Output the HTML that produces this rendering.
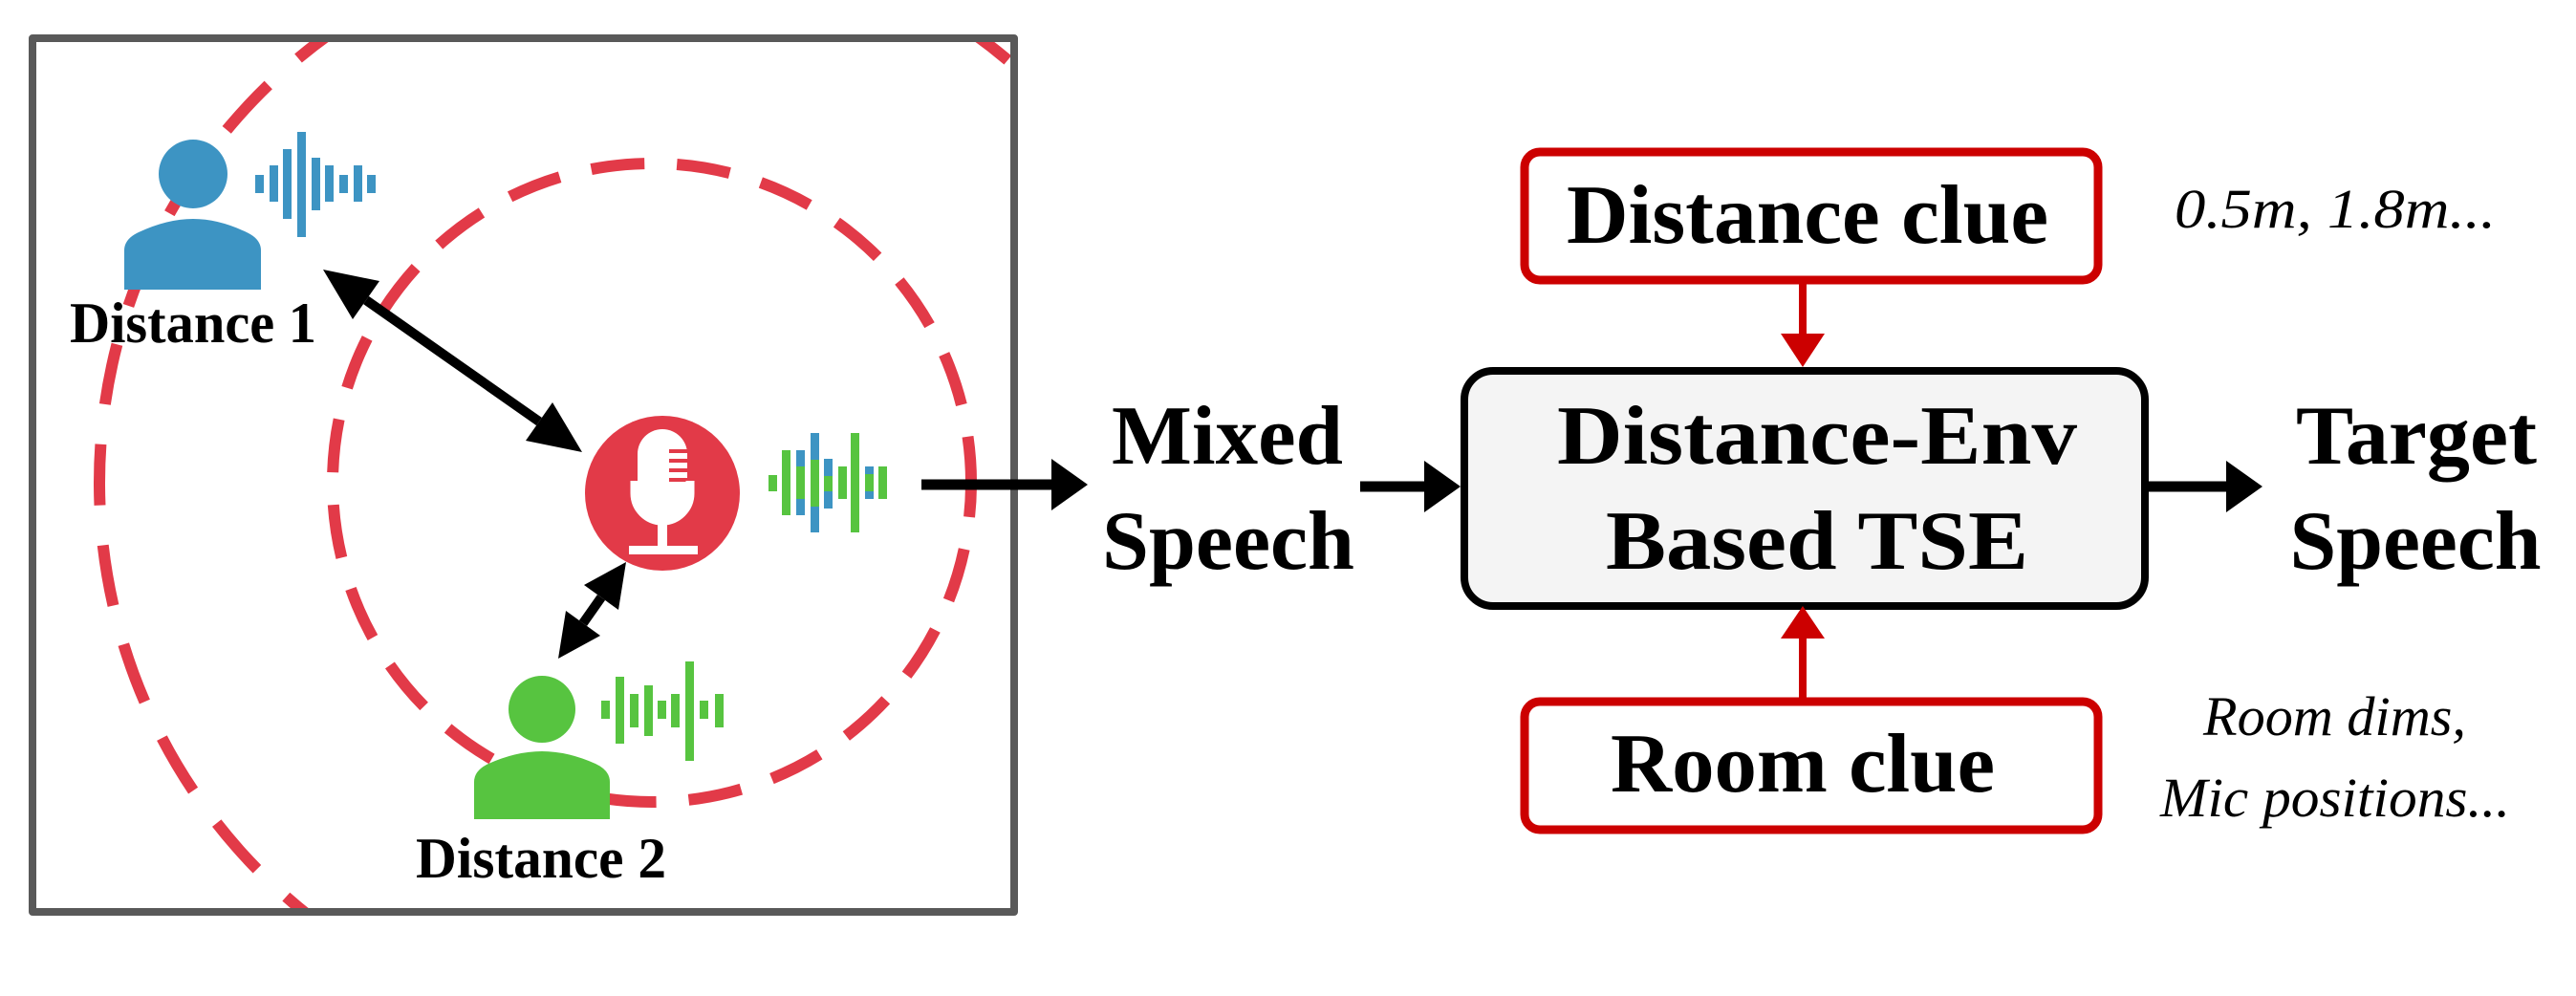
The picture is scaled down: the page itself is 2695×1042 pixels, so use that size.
<!DOCTYPE html>
<html><head><meta charset="utf-8"><style>
html,body{margin:0;padding:0;background:#fff}
svg{display:block}
text{font-family:"Liberation Serif","DejaVu Serif",serif}
</style></head><body>
<svg width="2695" height="1042" viewBox="0 0 2695 1042" xmlns="http://www.w3.org/2000/svg">
<defs><clipPath id="cb"><rect x="34" y="40" width="1027" height="914"/></clipPath></defs>
<rect width="2695" height="1042" fill="#fff"/>
<g clip-path="url(#cb)" fill="none" stroke="#e23a48" stroke-width="12">
<circle cx="682" cy="505" r="578" stroke-dasharray="64 42" stroke-dashoffset="10"/>
<circle cx="682" cy="505" r="334" stroke-dasharray="56 34" stroke-dashoffset="20"/>
</g>
<rect x="34" y="40" width="1027" height="914" fill="none" stroke="#595959" stroke-width="8" stroke-linejoin="round"/>
<!-- blue person -->
<circle cx="202" cy="182" r="36" fill="#3d94c3"/>
<path d="M130 303 L130 262 Q130 250 145 243 Q175 229 202 229 Q229 229 258 243 Q273 250 273 262 L273 303 Z" fill="#3d94c3"/>
<g fill="#3d94c3">
<rect x="267" y="183" width="9" height="19"/><rect x="282" y="173" width="9" height="38"/><rect x="296" y="156" width="9" height="73"/><rect x="311" y="138" width="9" height="110"/><rect x="326" y="165" width="9" height="55"/><rect x="340" y="173" width="9" height="38"/><rect x="355" y="183" width="9" height="19"/><rect x="370" y="173" width="9" height="38"/><rect x="384" y="183" width="9" height="19"/>
</g>
<text x="202" y="358" font-size="60" font-weight="bold" text-anchor="middle" textLength="258" lengthAdjust="spacingAndGlyphs">Distance 1</text>
<!-- green person -->
<circle cx="567" cy="742" r="35" fill="#57c440"/>
<path d="M496 857 L496 818 Q496 806 511 799 Q540 786 567 786 Q594 786 623 799 Q638 806 638 818 L638 857 Z" fill="#57c440"/>
<g fill="#57c440">
<rect x="629" y="733" width="9" height="19"/><rect x="644" y="708" width="9" height="70"/><rect x="659" y="726" width="9" height="35"/><rect x="674" y="717" width="9" height="53"/><rect x="688" y="733" width="9" height="19"/><rect x="702" y="726" width="9" height="35"/><rect x="717" y="692" width="9" height="104"/><rect x="732" y="733" width="9" height="19"/><rect x="748" y="726" width="9" height="35"/>
</g>
<text x="566" y="918" font-size="60" font-weight="bold" text-anchor="middle" textLength="262" lengthAdjust="spacingAndGlyphs">Distance 2</text>
<!-- mic -->
<circle cx="693" cy="516" r="81" fill="#e23a48"/>
<rect x="667" y="449" width="52" height="92" rx="26" fill="#fff"/>
<g stroke="#e23a48" stroke-width="4"><line x1="700" y1="472" x2="720" y2="472"/><line x1="700" y1="482" x2="720" y2="482"/><line x1="700" y1="492" x2="720" y2="492"/><line x1="700" y1="502" x2="720" y2="502"/></g>
<path d="M664 503 L664 516 A29 29 0 0 0 722 516 L722 503" fill="none" stroke="#fff" stroke-width="9"/>
<rect x="688" y="545" width="10" height="30" fill="#fff"/>
<rect x="658" y="571" width="72" height="9" fill="#fff"/>
<!-- mic wave -->
<g fill="#57c440">
<rect x="804" y="497" width="9" height="17"/><rect x="818" y="471" width="9" height="68"/><rect x="833" y="471" width="9" height="68"/><rect x="848" y="453" width="9" height="104"/><rect x="862" y="480" width="9" height="52"/><rect x="877" y="488" width="9" height="34"/><rect x="890" y="453" width="9" height="104"/><rect x="905" y="488" width="9" height="34"/><rect x="919" y="488" width="9" height="34"/>
</g>
<g fill="#3d94c3">
<rect x="833" y="471" width="9" height="17"/><rect x="833" y="522" width="9" height="17"/>
<rect x="848" y="453" width="9" height="28"/><rect x="848" y="530" width="9" height="27"/>
<rect x="862" y="480" width="9" height="18"/><rect x="862" y="514" width="9" height="18"/>
<rect x="905" y="488" width="9" height="8"/><rect x="905" y="514" width="9" height="8"/>
</g>
<!-- double arrows -->
<line x1="383" y1="314" x2="564" y2="441" stroke="#000" stroke-width="10"/>
<polygon points="338,282 369,334 397,294" fill="#000"/>
<polygon points="609,473 550,461 578,421" fill="#000"/>
<line x1="629" y1="625" x2="610" y2="652" stroke="#000" stroke-width="10"/>
<polygon points="655,588 611,612 647,638" fill="#000"/>
<polygon points="584,689 592,639 628,665" fill="#000"/>
<!-- mic -> mixed -->
<line x1="964" y1="507" x2="1104" y2="507" stroke="#000" stroke-width="11"/>
<polygon points="1138,507 1100,480 1100,534" fill="#000"/>
<text font-size="88" font-weight="bold" text-anchor="middle"><tspan x="1284" y="485" textLength="242" lengthAdjust="spacingAndGlyphs">Mixed</tspan><tspan x="1285" y="595" textLength="264" lengthAdjust="spacingAndGlyphs">Speech</tspan></text>
<line x1="1423" y1="509" x2="1492" y2="509" stroke="#000" stroke-width="11"/>
<polygon points="1528,509 1490,482 1490,536" fill="#000"/>
<!-- TSE box -->
<rect x="1532" y="388" width="712" height="246" rx="30" fill="#f4f4f4" stroke="#000" stroke-width="8"/>
<text font-size="88" font-weight="bold" text-anchor="middle"><tspan x="1901" y="485" textLength="544" lengthAdjust="spacingAndGlyphs">Distance-Env</tspan><tspan x="1901" y="595" textLength="442" lengthAdjust="spacingAndGlyphs">Based TSE</tspan></text>
<line x1="2244" y1="509" x2="2330" y2="509" stroke="#000" stroke-width="11"/>
<polygon points="2367,509 2329,482 2329,536" fill="#000"/>
<text font-size="88" font-weight="bold" text-anchor="middle"><tspan x="2528" y="485" textLength="252" lengthAdjust="spacingAndGlyphs">Target</tspan><tspan x="2527" y="595" textLength="263" lengthAdjust="spacingAndGlyphs">Speech</tspan></text>
<!-- clue boxes -->
<rect x="1595" y="159" width="600" height="134" rx="16" fill="#fff" stroke="#cc0000" stroke-width="9"/>
<text x="1891" y="254" font-size="88" font-weight="bold" text-anchor="middle" textLength="504" lengthAdjust="spacingAndGlyphs">Distance clue</text>
<line x1="1886" y1="293" x2="1886" y2="352" stroke="#cc0000" stroke-width="8"/>
<polygon points="1886,384 1863,349 1909,349" fill="#cc0000"/>
<rect x="1595" y="734" width="600" height="134" rx="16" fill="#fff" stroke="#cc0000" stroke-width="9"/>
<text x="1886" y="828" font-size="88" font-weight="bold" text-anchor="middle" textLength="402" lengthAdjust="spacingAndGlyphs">Room clue</text>
<line x1="1886" y1="734" x2="1886" y2="664" stroke="#cc0000" stroke-width="8"/>
<polygon points="1886,634 1863,668 1909,668" fill="#cc0000"/>
<!-- italic notes -->
<text x="2275" y="238" font-size="58" font-style="italic" textLength="336" lengthAdjust="spacingAndGlyphs">0.5m, 1.8m...</text>
<text x="2305" y="769" font-size="58" font-style="italic" textLength="275" lengthAdjust="spacingAndGlyphs">Room dims,</text>
<text x="2260" y="854" font-size="58" font-style="italic" textLength="366" lengthAdjust="spacingAndGlyphs">Mic positions...</text>
</svg>
</body></html>
